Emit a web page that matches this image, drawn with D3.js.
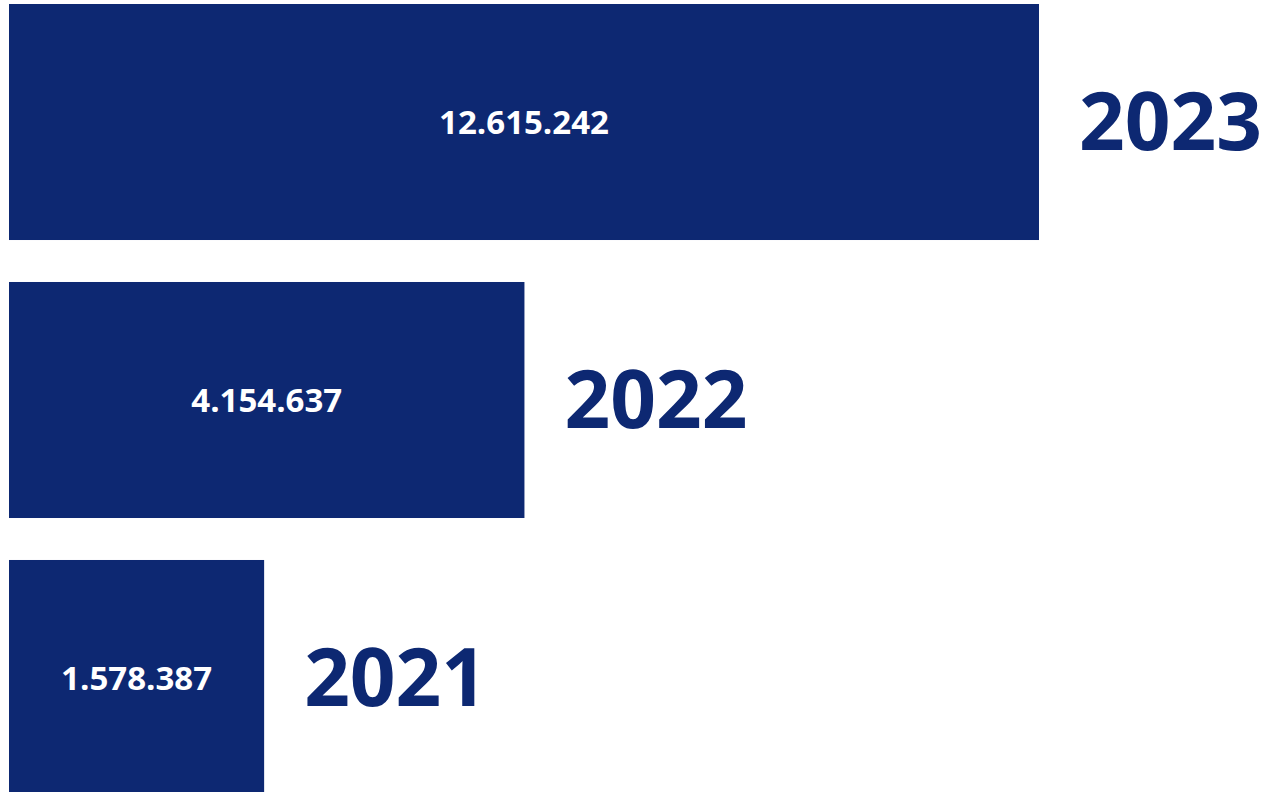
<!DOCTYPE html>
<html>
<head>
<meta charset="utf-8">
<script src="https://cdn.jsdelivr.net/npm/d3@7"></script>
<style>
  html, body { margin: 0; padding: 0; background: #fff; }
  svg { display: block; }
</style>
</head>
<body>
<div id="chart"></div>
<script>
const years = ["2023", "2022", "2021"];
const values = [12615242, 4154637, 1578387];
const labels = ["12.615.242", "4.154.637", "1.578.387"];

const width = 1271;
const height = 792;
const barColor = "#0d2872";

const rows = years.map((year, i) => ({ year, value: values[i], label: labels[i] }));

const svg = d3
  .select("#chart")
  .append("svg")
  .attr("width", width)
  .attr("height", height)
  .attr("viewBox", `0 0 ${width} ${height}`);

const left = 9;

// bar lengths in the source are compressed, not linear
const xScale = d3
  .scalePow()
  .exponent(0.52)
  .domain([220000, d3.max(values)])
  .range([0, 1030]);

const yScale = d3
  .scaleBand()
  .domain(years)
  .range([4, 796])
  .paddingInner(0.151)
  .paddingOuter(0);

const groups = svg
  .selectAll("g.row")
  .data(rows)
  .join("g")
  .attr("class", "row")
  .attr("transform", (d) => `translate(0, ${yScale(d.year)})`);

groups
  .append("rect")
  .attr("x", left)
  .attr("y", 0)
  .attr("width", (d) => xScale(d.value))
  .attr("height", yScale.bandwidth())
  .attr("fill", barColor);

groups
  .append("text")
  .attr("x", (d) => left + xScale(d.value) / 2)
  .attr("y", yScale.bandwidth() / 2)
  .attr("dy", "0.35em")
  .attr("text-anchor", "middle")
  .attr("fill", "#fff")
  .style("font-family", "'Open Sans', sans-serif")
  .style("font-weight", 700)
  .style("font-size", "33px")
  .text((d) => d.label);

groups
  .append("text")
  .attr("x", (d) => left + xScale(d.value) + 40)
  .attr("y", yScale.bandwidth() / 2)
  .attr("dy", "0.35em")
  .attr("fill", barColor)
  .style("font-family", "'Open Sans', sans-serif")
  .style("font-weight", 700)
  .style("font-size", "80px")
  .text((d) => d.year);
</script>
</body>
</html>
